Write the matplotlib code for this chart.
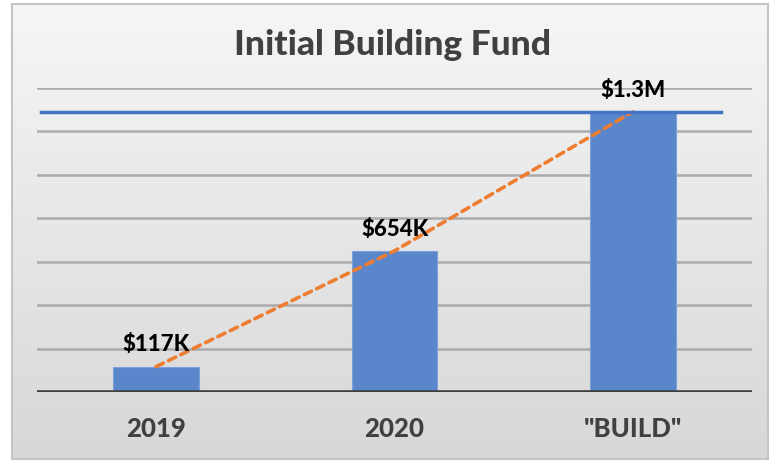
import matplotlib
matplotlib.use("Agg")
import matplotlib.pyplot as plt
import numpy as np
from matplotlib.patches import Rectangle

categories = ['2019', '2020', '"BUILD"']
values = [117000, 650000, 1290000]
labels = ['$117K', '$654K', '$1.3M']
title = 'Initial Building Fund'
y_max = 1400000
grid_step = 200000

W, H = 779, 465
fig = plt.figure(figsize=(W / 100, H / 100), dpi=100)
fig.patch.set_facecolor('white')

# background gradient panel
bg = fig.add_axes([0, 0, 1, 1], zorder=-10)
bg.set_xlim(0, W)
bg.set_ylim(H, 0)
bg.axis('off')
grad = np.linspace(0, 1, 256).reshape(-1, 1)
top_c = np.array([0.965, 0.965, 0.965])
bot_c = np.array([0.845, 0.845, 0.845])
img = top_c + (bot_c - top_c) * grad[..., None]
img = np.repeat(img, 2, axis=1)
bg.imshow(img, extent=(12, 768, 459, 4), aspect='auto', interpolation='bilinear')
bg.add_patch(Rectangle((12, 4), 756, 455, fill=False, edgecolor='#c4c4c4', lw=1.5))

ax = fig.add_axes([37 / W, 1 - 392 / H, (752 - 37) / W, (392 - 88) / H])
ax.patch.set_alpha(0)
x = np.arange(len(categories))
ax.set_xlim(-0.5, len(categories) - 0.5)
ax.set_ylim(0, y_max)

for gy in np.arange(grid_step, y_max + 1, grid_step):
    ax.axhline(gy, color='#ababab', lw=1.8, zorder=1)

ax.bar(x, values, width=0.36, color='#5A86CC', edgecolor='#7da0da', lw=0.8, zorder=2)
ax.plot(x, values, color='#ED7D31', lw=2.6, ls=(0, (2.2, 1.6)), zorder=3, dash_capstyle='round')
ax.axhline(values[-1], xmin=0.005, xmax=0.956, color='#4472C4', lw=2.5, zorder=4)
ax.axhline(0, color='#3f3f3f', lw=2.6, zorder=5)

fam = ['Lato', 'DejaVu Sans']
for xi, v, lab in zip(x, values, labels):
    ax.annotate(lab, (xi, v), xytext=(0, 8), textcoords='offset points',
                ha='center', va='bottom', fontsize=16, fontweight='black',
                family=fam, color='black', zorder=6)

ax.set_xticks(x)
ax.set_xticklabels(categories, fontsize=18.5, fontweight='black',
                   family=fam, color='#404040')
ax.tick_params(axis='x', length=0, pad=18)
ax.set_yticks([])
for s in ax.spines.values():
    s.set_visible(False)

fig.text(392 / W, 1 - 45 / H, title, ha='center', va='center', fontsize=25.5,
         fontweight='black', family=fam, color='#404040')

fig.savefig('out.png', dpi=100)
